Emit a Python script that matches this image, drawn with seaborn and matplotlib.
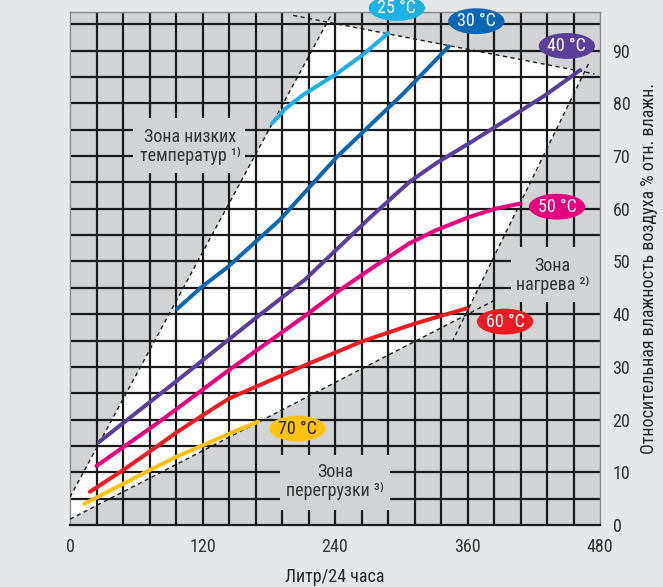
import pandas as pd
import matplotlib
matplotlib.use("Agg")
import matplotlib.pyplot as plt
import seaborn as sns
from matplotlib.patches import Ellipse, Rectangle

# curves: x = litres / 24 h, y = % relative humidity
t25_x = [183, 195, 211, 242, 265, 288]
t25_y = [76.2, 79.0, 81.6, 85.7, 89.2, 93.3]
t30_x = [97, 120, 142, 190, 242, 302, 343]
t30_y = [41.0, 45.3, 48.8, 57.9, 69.9, 81.9, 90.8]
t40_x = [26, 60, 97, 142, 169, 213, 240, 272, 308, 332, 362, 400, 430, 462]
t40_y = [15.7, 21.3, 27.4, 34.9, 39.4, 46.6, 52.0, 58.4, 65.2, 68.7, 72.5, 77.5, 81.5, 86.3]
t50_x = [24, 81, 144, 211, 241, 271, 307, 331, 361, 385, 408]
t50_y = [11.2, 19.6, 29.4, 39.4, 44.1, 48.4, 53.4, 55.9, 58.4, 60.0, 61.0]
t60_x = [18, 48, 72, 96, 120, 144, 168, 192, 216, 264, 312, 359]
t60_y = [6.3, 10.4, 13.9, 17.5, 20.8, 24.0, 26.2, 28.4, 30.6, 34.8, 38.2, 41.1]
t70_x = [13, 48, 72, 96, 120, 144, 170]
t70_y = [4.0, 7.8, 10.4, 12.9, 15.1, 17.3, 19.6]

temps = ["25 °C", "30 °C", "40 °C", "50 °C", "60 °C", "70 °C"]
colors = ["#1cb0e6", "#0b67b2", "#5a3e99", "#e6007e", "#ed1c24", "#ffc20e"]

# working zone (white area) and its dashed border lines
zone_x = [0, 0, 233, 466, 358]
zone_y = [1.1, 5.3, 95.4, 86.0, 39.8]
border_x = [[0, 236], [202, 475], [346, 470], [0, 386]]
border_y = [[5.3, 96.6], [96.7, 85.6], [34.7, 87.7], [1.1, 42.8]]

x_ticks = [0, 120, 240, 360, 480]
y_ticks = [0, 10, 20, 30, 40, 50, 60, 70, 80, 90]

sns.set_style("white")
plt.rcParams["font.family"] = ["Roboto Condensed", "Liberation Sans Narrow", "Roboto", "DejaVu Sans"]
plt.rcParams["text.color"] = "#333333"

fig = plt.figure(figsize=(6.63, 5.87), dpi=100, facecolor="#e6e7e8")
ax = fig.add_axes([70 / 663, 1 - 525 / 587, 530 / 663, 513.3 / 587])
ax.set_facecolor("#d1d3d4")
ax.set_xlim(0, 480)
ax.set_ylim(0, 97.4)
ax.set_axisbelow(True)

ax.fill(zone_x, zone_y, color="white", zorder=0.3, lw=0)

# grid every 24 l and 5 %
ax.xaxis.remove_overlapping_locs = False
ax.yaxis.remove_overlapping_locs = False
ax.set_xticks(x_ticks)
ax.set_yticks(y_ticks)
ax.set_xticks(range(24, 480, 24), minor=True)
ax.set_yticks(range(5, 97, 5), minor=True)
ax.grid(False, which="major")
ax.grid(True, which="minor", color="#1a1a1a", lw=1.6)
ax.tick_params(which="both", length=0)
ax.tick_params(labelsize=13, colors="#333333", pad=9)
ax.yaxis.tick_right()
ax.yaxis.set_label_position("right")

for s in ["left", "top", "right"]:
    ax.spines[s].set_color("#8a8a8a")
    ax.spines[s].set_linewidth(1)
ax.spines["bottom"].set_color("#1a1a1a")
ax.spines["bottom"].set_linewidth(1.6)

# zone captions sit on plain gray boxes that hide the grid
boxes = [(57, 66.8, 101.5, 10.4), (399.5, 42.3, 80.5, 10.5), (190, 2.8, 100, 10.5)]
for bx, by, bw, bh in boxes:
    ax.add_patch(Rectangle((bx, by), bw, bh, facecolor="#d1d3d4", lw=0, zorder=1))
ax.text(108.7, 71.9, "Зона низких\nтемператур ¹⁾", ha="center", va="center",
        fontsize=13, linespacing=1.05, zorder=2)
ax.text(437, 47.4, "Зона\nнагрева ²⁾", ha="center", va="center",
        fontsize=13, linespacing=1.05, zorder=2)
ax.text(240, 8.2, "Зона\nперегрузки ³⁾", ha="center", va="center",
        fontsize=13, linespacing=1.05, zorder=2)

for bxs, bys in zip(border_x, border_y):
    ax.plot(bxs, bys, color="#1a1a1a", lw=1, ls=(0, (3, 2.5)), zorder=2.6)

frames = []
for name, xs, ys in zip(temps, [t25_x, t30_x, t40_x, t50_x, t60_x, t70_x],
                        [t25_y, t30_y, t40_y, t50_y, t60_y, t70_y]):
    frames.append(pd.DataFrame({"litres": xs, "rh": ys, "temp": name}))
df = pd.concat(frames, ignore_index=True)

sns.lineplot(data=df, x="litres", y="rh", hue="temp", palette=dict(zip(temps, colors)),
             estimator=None, sort=False, legend=False, linewidth=2.9, zorder=3, ax=ax)

# temperature tags
label_x = [296, 368, 450, 441, 394, 206]
label_y = [98.1, 95.6, 90.9, 60.4, 38.6, 18.3]
for name, c, lx, ly in zip(temps, colors, label_x, label_y):
    ax.add_patch(Ellipse((lx, ly), 51, 4.9, facecolor=c, lw=0, zorder=4, clip_on=False))
    tc = "#231f20" if name == "70 °C" else "white"
    ax.text(lx, ly, name, ha="center", va="center", fontsize=13, color=tc,
            zorder=5, clip_on=False)

ax.set_xlabel("Литр/24 часа", fontsize=13, labelpad=9)
ax.set_ylabel("Относительная влажность воздуха % отн. влажн.", fontsize=13, labelpad=7)

fig.savefig("out.png", dpi=100, facecolor=fig.get_facecolor())
